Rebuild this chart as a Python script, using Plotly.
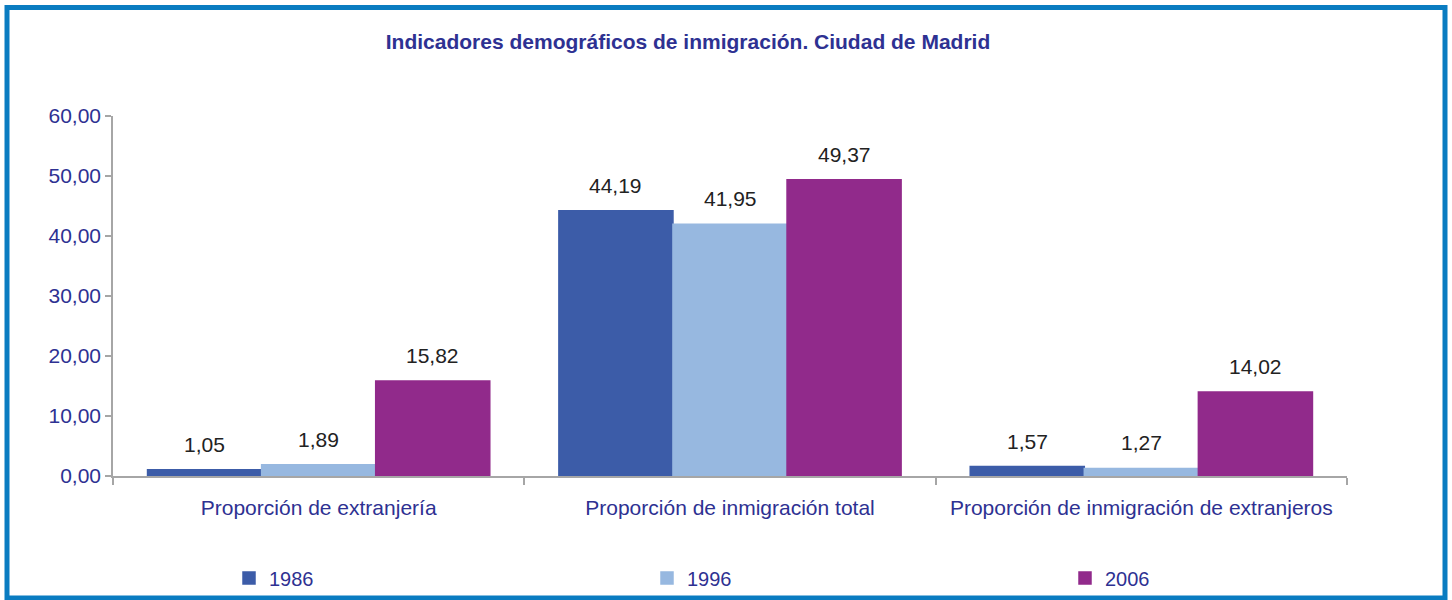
import plotly.graph_objects as go

categories = ["Proporción de extranjería", "Proporción de inmigración total",
              "Proporción de inmigración de extranjeros"]
years = ["1986", "1996", "2006"]
values_1986 = [1.05, 44.19, 1.57]
values_1996 = [1.89, 41.95, 1.27]
values_2006 = [15.82, 49.37, 14.02]
colors = ["#3c5ca8", "#97b8e0", "#912a8b"]

series = [values_1986, values_1996, values_2006]

W, H = 1452, 600
ml, mr, mt, mb = 113, 105, 116, 124
pw, ph = W - ml - mr, H - mt - mb

FONT = "Liberation Sans, Arial, sans-serif"
BLUE_TXT = "#2e3192"
BARGAP = 0.168

def px_x(p):
    return (p - ml) / pw

def px_y(p):
    return (H - mb - p) / ph

fig = go.Figure()
legend_names = ["legend", "legend2", "legend3"]
for name, vals, col, lg in zip(years, series, colors, legend_names):
    fig.add_trace(go.Bar(
        name=name, x=categories, y=vals,
        marker=dict(color=col, line=dict(color=col, width=1.5)),
        legend=lg,
    ))

# data labels placed at each bar's value
cat_px = pw / len(categories)
bar_px = cat_px * (1 - BARGAP) / len(series)
for i, vals in enumerate(series):
    for cat, v in zip(categories, vals):
        fig.add_annotation(
            x=cat, y=v, xref="x", yref="y",
            text=f"{v:.2f}".replace(".", ","), showarrow=False,
            xshift=(i - 1) * bar_px, yanchor="bottom", yshift=12,
            font=dict(family=FONT, size=21, color="#222222"),
        )

fig.add_shape(type="rect", xref="paper", yref="paper",
              x0=px_x(7), x1=px_x(1445), y0=px_y(598), y1=px_y(7.5),
              line=dict(color="#0a7cc1", width=5), fillcolor="rgba(0,0,0,0)",
              layer="above")

legend_common = dict(orientation="h", yanchor="middle", xanchor="left",
                     font=dict(family=FONT, size=20, color=BLUE_TXT),
                     bgcolor="rgba(0,0,0,0)", y=px_y(578))
legend_x = [229, 647, 1065]

fig.update_layout(
    width=W, height=H,
    margin=dict(l=ml, r=mr, t=mt, b=mb, autoexpand=False),
    paper_bgcolor="white", plot_bgcolor="white",
    separators=",.",
    barmode="group", bargap=BARGAP, bargroupgap=0,
    font=dict(family=FONT, size=20, color=BLUE_TXT),
    title=dict(text="<b>Indicadores demográficos de inmigración. Ciudad de Madrid</b>",
               x=688 / W, xanchor="center", y=1 - 42 / H, yanchor="middle",
               font=dict(family=FONT, size=21, color=BLUE_TXT)),
    xaxis=dict(showline=True, linecolor="#a6a6a6", linewidth=1.5,
               ticks="outside", ticklen=7, tickcolor="#a6a6a6", tickwidth=1.5,
               tickson="boundaries", showgrid=False, ticklabelstandoff=12,
               tickfont=dict(family=FONT, size=21, color=BLUE_TXT)),
    yaxis=dict(range=[0, 60], dtick=10, tickformat=".2f",
               showline=True, linecolor="#a6a6a6", linewidth=1.5,
               ticks="outside", ticklen=6, tickcolor="#a6a6a6", tickwidth=1.5,
               showgrid=False, zeroline=False,
               tickfont=dict(family=FONT, size=21, color=BLUE_TXT)),
    legend=dict(x=px_x(legend_x[0]), **legend_common),
    legend2=dict(x=px_x(legend_x[1]), **legend_common),
    legend3=dict(x=px_x(legend_x[2]), **legend_common),
    showlegend=True,
)

fig.write_html("out.html", config={"displayModeBar": False},
               post_script="document.body.style.margin='0';")
